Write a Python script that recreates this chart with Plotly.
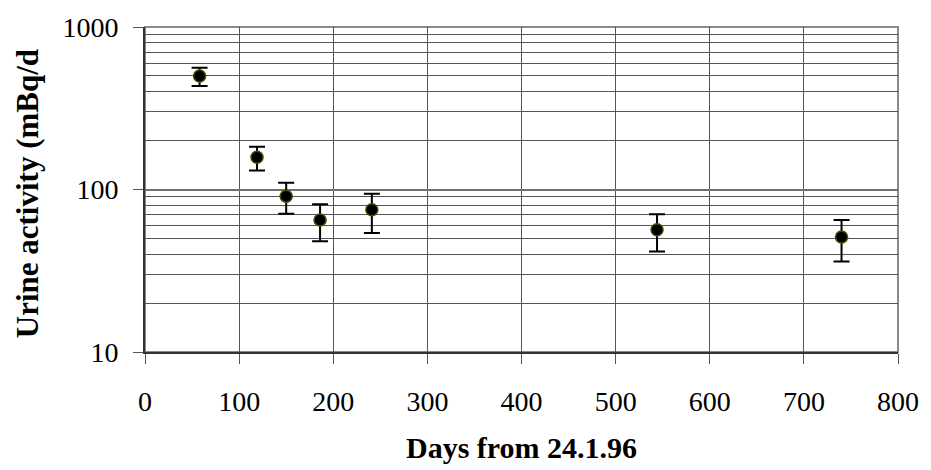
import plotly.graph_objects as go

# Data
days = [58, 119, 150, 186, 241, 544, 740]
activity = [500, 158, 91, 65, 75, 56.6, 51]
err_upper = [562, 183, 110, 81, 94, 70.5, 65]
err_lower = [434, 131, 71, 48, 54, 41.5, 36]

x_ticks = [0, 100, 200, 300, 400, 500, 600, 700, 800]
y_ticks = [10, 100, 1000]
y_tick_text = ["10", "100", "1000"]

x_title = "Days from 24.1.96"
y_title = "Urine activity (mBq/d"

FONT = "Liberation Serif, Times New Roman, serif"

plus = [u - v for u, v in zip(err_upper, activity)]
minus = [v - l for v, l in zip(activity, err_lower)]

fig = go.Figure()
fig.add_trace(go.Scatter(
    x=days, y=activity, mode="markers",
    marker=dict(size=12, color="black", line=dict(color="#4a4a00", width=1.5)),
    error_y=dict(type="data", symmetric=False, array=plus, arrayminus=minus,
                 color="black", thickness=2, width=8),
    showlegend=False,
))

fig.update_layout(
    width=931, height=470,
    margin=dict(l=145, r=26, t=22, b=118),
    paper_bgcolor="white", plot_bgcolor="white",
    font=dict(family=FONT, size=26, color="black"),
    xaxis=dict(
        range=[0, 800], tickvals=x_ticks, showgrid=True, gridcolor="#555555", gridwidth=1,
        zeroline=False, showline=True, linecolor="#333333", linewidth=2,
        ticks="outside", ticklen=10, tickcolor="#555555", tickwidth=1,
        ticklabelstandoff=13, tickfont=dict(family=FONT, size=28),
    ),
    yaxis=dict(
        type="log", range=[1, 3], tickvals=y_ticks, ticktext=y_tick_text,
        showgrid=True, gridcolor="#707070", gridwidth=2,
        minor=dict(dtick="D1", showgrid=True, gridcolor="#555555", gridwidth=1, ticks=""),
        zeroline=False, showline=True, linecolor="#333333", linewidth=2,
        ticks="outside", ticklen=10, tickcolor="#555555", tickwidth=1,
        ticklabelstandoff=9, tickfont=dict(family=FONT, size=28),
    ),
    shapes=[dict(type="rect", xref="paper", yref="paper", x0=0, x1=1, y0=0, y1=1,
                 line=dict(color="#8a8a8a", width=2), layer="below")],
    annotations=[
        dict(text="<b>%s</b>" % x_title, xref="paper", yref="paper", x=0.5, y=-0.352,
             xanchor="center", yanchor="bottom", showarrow=False,
             font=dict(family=FONT, size=30)),
        dict(text="<b>%s</b>" % y_title, xref="paper", yref="paper", x=-0.156, y=0.487,
             xanchor="center", yanchor="middle", textangle=-90, showarrow=False,
             font=dict(family=FONT, size=31)),
    ],
)

fig.write_html("out.html")
